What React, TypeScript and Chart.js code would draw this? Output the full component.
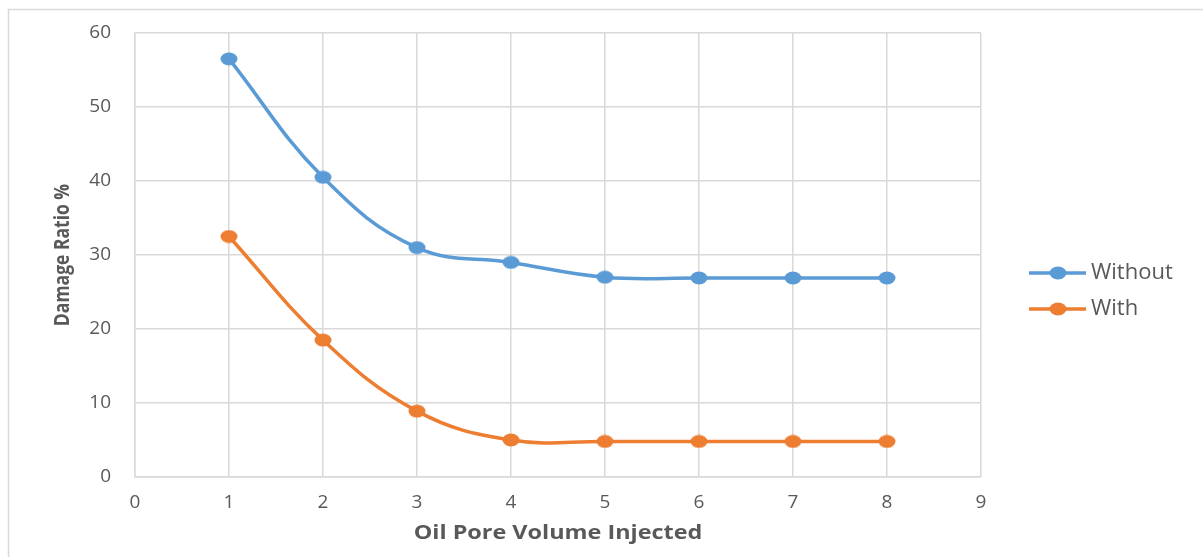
import React, { useEffect, useRef } from "react";
import { Chart, registerables } from "chart.js";

Chart.register(...registerables);

const xValues = [1, 2, 3, 4, 5, 6, 7, 8];
const withoutValues = [56.5, 40.5, 31.0, 29.0, 27.0, 26.9, 26.9, 26.9];
const withValues = [32.5, 18.5, 8.9, 5.0, 4.8, 4.8, 4.8, 4.8];
const seriesNames = ["Without", "With"];
const seriesColors = ["#5B9BD5", "#ED7D31"];
const xTitle = "Oil Pore Volume Injected";
const yTitle = "Damage Ratio %";

const TEXT = "#595959";
const GRID = "#D9D9D9";
const FONT = "'Open Sans', 'Noto Sans', sans-serif";

function ellipseMarker(color: string) {
  const c = document.createElement("canvas");
  c.width = 18;
  c.height = 14;
  const ctx = c.getContext("2d")!;
  ctx.fillStyle = color;
  ctx.beginPath();
  ctx.ellipse(9, 7, 8.5, 6.5, 0, 0, Math.PI * 2);
  ctx.fill();
  return c;
}

const decorations = {
  id: "decorations",
  afterDraw(chart: any) {
    const ctx = chart.ctx;
    const area = chart.chartArea;
    ctx.save();
    ctx.strokeStyle = GRID;
    ctx.lineWidth = 1.5;
    ctx.beginPath();
    ctx.moveTo(8.5, 557);
    ctx.lineTo(8.5, 9.5);
    ctx.lineTo(1203, 9.5);
    ctx.stroke();

    ctx.fillStyle = TEXT;
    ctx.save();
    ctx.translate((area.left + area.right) / 2, 533);
    ctx.scale(1.2, 1);
    ctx.font = `bold 19.5px ${FONT}`;
    ctx.textAlign = "center";
    ctx.textBaseline = "middle";
    ctx.fillText(xTitle, 0, 0);
    ctx.restore();

    ctx.save();
    ctx.translate(63, (area.top + area.bottom) / 2);
    ctx.scale(1.25, 1);
    ctx.rotate(-Math.PI / 2);
    ctx.font = `bold 17.5px ${FONT}`;
    ctx.textAlign = "center";
    ctx.textBaseline = "middle";
    ctx.fillText(yTitle, 0, 0);
    ctx.restore();

    const items = [
      { y: 273, i: 0 },
      { y: 309, i: 1 },
    ];
    items.forEach(({ y, i }) => {
      ctx.strokeStyle = seriesColors[i];
      ctx.fillStyle = seriesColors[i];
      ctx.lineWidth = 3.5;
      ctx.beginPath();
      ctx.moveTo(1029, y);
      ctx.lineTo(1086, y);
      ctx.stroke();
      ctx.beginPath();
      ctx.ellipse(1058, y, 8.5, 6.5, 0, 0, Math.PI * 2);
      ctx.fill();
      ctx.fillStyle = TEXT;
      ctx.font = `22px ${FONT}`;
      ctx.textAlign = "left";
      ctx.textBaseline = "middle";
      ctx.fillText(seriesNames[i], 1091, y);
    });
    ctx.restore();
  },
};

export default function App() {
  const ref = useRef<HTMLCanvasElement | null>(null);

  useEffect(() => {
    if (!ref.current) return;
    const mk = (data: number[], i: number) => ({
      label: seriesNames[i],
      data: xValues.map((x, k) => ({ x, y: data[k] })),
      borderColor: seriesColors[i],
      backgroundColor: seriesColors[i],
      borderWidth: 3.5,
      pointStyle: ellipseMarker(seriesColors[i]),
      pointRadius: 7,
      pointHoverRadius: 7,
      pointBorderWidth: 0,
      tension: 0.4,
    });
    const chart = new Chart(ref.current, {
      type: "line",
      data: {
        datasets: [mk(withoutValues, 0), mk(withValues, 1)],
      },
      plugins: [decorations],
      options: {
        animation: false,
        responsive: false,
        devicePixelRatio: 1,
        layout: { padding: { left: 0, top: 33, right: 222, bottom: 0 } },
        plugins: {
          legend: { display: false },
          tooltip: { enabled: false },
        },
        scales: {
          x: {
            type: "linear",
            min: 0,
            max: 9,
            ticks: {
              stepSize: 1,
              color: TEXT,
              font: { family: FONT, size: 19 },
              padding: 14,
            },
            grid: { color: GRID, lineWidth: 1.5, drawTicks: false },
            border: { color: GRID, width: 1.5 },
            afterFit: (s: any) => {
              s.height = 80;
              s.paddingLeft = 0;
              s.paddingRight = 0;
            },
          },
          y: {
            min: 0,
            max: 60,
            ticks: {
              stepSize: 10,
              color: TEXT,
              font: { family: FONT, size: 19 },
              padding: 24,
            },
            grid: { color: GRID, lineWidth: 1.5, drawTicks: false },
            border: { color: GRID, width: 1.5 },
            afterFit: (s: any) => {
              s.width = 135;
              s.paddingTop = 0;
              s.paddingBottom = 0;
            },
          },
        },
      },
    });
    return () => chart.destroy();
  }, []);

  return (
    <div style={{ position: "fixed", left: 0, top: 0, width: 1203, height: 557, background: "#fff" }}>
      <canvas ref={ref} width={1203} height={557} style={{ width: 1203, height: 557, display: "block" }} />
    </div>
  );
}
